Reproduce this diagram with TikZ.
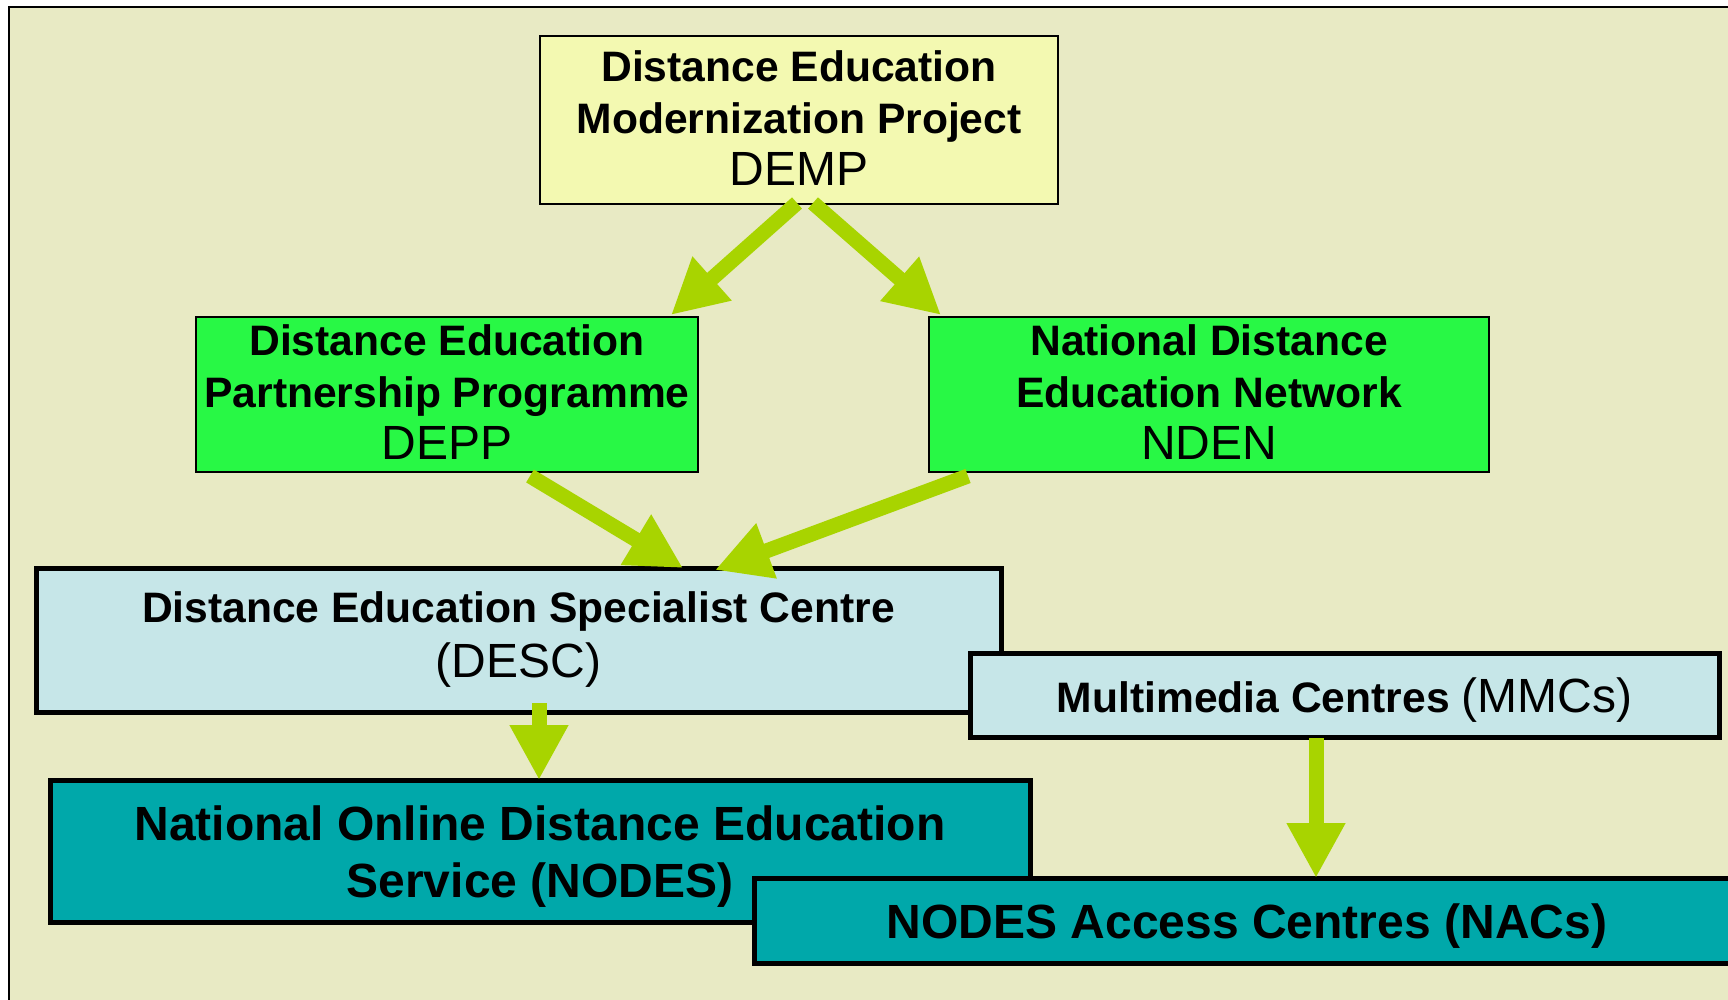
\documentclass[tikz,border=0pt]{standalone}
\usepackage{fontspec}
\setmainfont{Liberation Sans}
\usetikzlibrary{arrows.meta,calc}
\definecolor{bgc}{HTML}{E8EAC4}
\definecolor{dempc}{HTML}{F3F9B1}
\definecolor{greenc}{HTML}{28F845}
\definecolor{bluec}{HTML}{C6E6E8}
\definecolor{tealc}{HTML}{00A8AA}
\definecolor{arrowc}{HTML}{A8D400}
\newcommand\upstrut{\rule[-2.2pt]{0pt}{0pt}}
\begin{document}
\begin{tikzpicture}[x=0.5pt,y=-0.5pt,
  box/.style={draw=black, align=center, inner sep=0pt, outer sep=0pt, text=black},
  thinbox/.style={box, line width=1pt},
  thickbox/.style={box, line width=2.5pt},
  flow/.style={draw=arrowc, line width=7.5pt, -{Triangle[length=27.5pt,width=27.5pt]}},
]
\useasboundingbox (0,0) rectangle (1728,1000);
\fill[white] (0,0) rectangle (1728,1000);
\draw[line width=1pt, fill=bgc] (9,7) rectangle (1780,1030);

\node[thinbox, fill=dempc, minimum width=259pt, minimum height=84pt, font=\fontsize{21.3}{26}\selectfont] (demp) at (799,120)
 {\textbf{Distance Education}\\\textbf{Modernization Project}\\{\fontsize{24}{26}\selectfont DEMP}\upstrut};
\node[thinbox, fill=greenc, minimum width=251pt, minimum height=77.5pt, font=\fontsize{21.3}{26}\selectfont] (depp) at (447,394.5)
 {\textbf{Distance Education}\\\textbf{Partnership Programme}\\{\fontsize{24}{26}\selectfont DEPP}\upstrut};
\node[thinbox, fill=greenc, minimum width=280pt, minimum height=77.5pt, font=\fontsize{21.3}{26}\selectfont] (nden) at (1209,394.5)
 {\textbf{National Distance}\\\textbf{Education Network}\\{\fontsize{24}{26}\selectfont NDEN}\upstrut};
\node[thickbox, fill=bluec, minimum width=482.5pt, minimum height=72pt, font=\fontsize{21.3}{27.5}\selectfont] (desc) at (518.5,640)
 {\textbf{Distance Education Specialist Centre}\\{\fontsize{24}{27.5}\selectfont (DESC)}};
\node[thickbox, fill=bluec, minimum width=374.5pt, minimum height=42pt, font=\fontsize{21.3}{26}\selectfont] (mmc) at (1344.5,695)
 {\rule{0pt}{22pt}\textbf{Multimedia Centres} {\fontsize{24}{26}\selectfont (MMCs)}};
\node[thickbox, fill=tealc, minimum width=490pt, minimum height=71pt, font=\fontsize{24}{28.5}\selectfont\bfseries] (nodes) at (540,851)
 {\rule{0pt}{23pt}National Online Distance Education\\Service (NODES)};
\node[thickbox, fill=tealc, minimum width=493pt, minimum height=42.5pt, font=\fontsize{24}{28.5}\selectfont\bfseries] (nacs) at (1247,920.5)
 {\rule{0pt}{23pt}NODES Access Centres (NACs)};

\draw[flow] ($(demp.south)+(-2,-1)$) -- ($(depp.north)+(224,-2)$);
\draw[flow] ($(demp.south)+(14,-1)$) -- ($(nden.north)+(-268,-2)$);
\draw[flow] ($(depp.south)+(83,4)$) -- ($(desc.north)+(164.5,0)$);
\draw[flow] ($(nden.south)+(-241,4)$) -- ($(desc.north)+(196.5,2)$);
\draw[flow] ($(desc.south)+(20.5,-9)$) -- ($(nodes.north)+(-1,0)$);
\draw[flow] ($(mmc.south)+(-28.5,1)$) -- ($(nacs.north)+(69,0)$);
\end{tikzpicture}
\end{document}
